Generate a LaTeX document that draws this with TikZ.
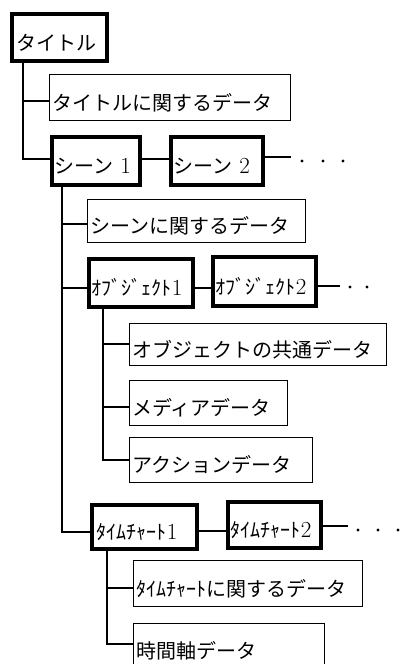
\documentclass[tikz,border=0pt]{standalone}
\usepackage{fontspec}
\newfontfamily\jp{Noto Sans CJK JP}
\newcommand\lowtxt[1]{\raisebox{-7pt}[15pt][3pt]{\jp #1}}
\newcommand\dg[1]{{\rmfamily\fontsize{23}{24}\selectfont #1}}
\begin{document}
\begin{tikzpicture}[x=1pt,y=-1pt,
  font=\fontsize{20}{24}\selectfont,
  bigbox/.style={draw, line width=3.5pt, anchor=north west, inner xsep=3pt, inner ysep=0pt, align=left},
  databox/.style={draw, line width=1.3pt, anchor=north west, inner xsep=3pt, inner ysep=0pt, align=left},
  conn/.style={line width=1.8pt},
  dot/.style={fill=black}]
\useasboundingbox (0,0) rectangle (402,664);
\clip (0,0) rectangle (402,664);
% boxes
\node[bigbox, inner xsep=5pt, minimum width=95pt, minimum height=47pt, text width=85pt] (title) at (10,12) {\lowtxt{タイトル}};
\node[databox, minimum width=241pt, minimum height=46pt, text width=235pt] (tdata) at (48.5,73.5) {\lowtxt{タイトルに関するデータ}};
\node[bigbox, minimum width=88pt, minimum height=48pt, text width=82pt] (scene1) at (50,135) {\lowtxt{シーン~\dg{1}}};
\node[bigbox, minimum width=92pt, minimum height=48pt, text width=86pt] (scene2) at (169,135) {\lowtxt{シーン~\dg{2}}};
\node[databox, minimum width=218pt, minimum height=43pt, text width=212pt] (sdata) at (86.5,198.5) {\lowtxt{シーンに関するデータ}};
\node[bigbox, minimum width=104pt, minimum height=48pt, text width=98pt] (obj1) at (87,257) {\lowtxt{ｵﾌﾞｼﾞｪｸﾄ\dg{1}}};
\node[bigbox, minimum width=103pt, minimum height=49pt, text width=97pt] (obj2) at (211,255) {\lowtxt{ｵﾌﾞｼﾞｪｸﾄ\dg{2}}};
\node[databox, minimum width=257pt, minimum height=42pt, text width=251pt] (odata) at (128.5,322.5) {\lowtxt{オブジェクトの共通データ}};
\node[databox, minimum width=158pt, minimum height=45pt, text width=152pt] (media) at (128.5,379.5) {\lowtxt{メディアデータ}};
\node[databox, minimum width=183pt, minimum height=45pt, text width=177pt] (action) at (128.5,436.5) {\lowtxt{アクションデータ}};
\node[bigbox, inner xsep=5pt, minimum width=105pt, minimum height=44pt, text width=95pt] (tc1) at (90,503) {\lowtxt{ﾀｲﾑﾁｬｰﾄ\dg{1}}};
\node[bigbox, minimum width=93pt, minimum height=46pt, text width=87pt] (tc2) at (226,500) {\lowtxt{ﾀｲﾑﾁｬｰﾄ\dg{2}}};
\node[databox, minimum width=229pt, minimum height=46pt, text width=223pt] (tcdata) at (132.5,559.5) {\lowtxt{ﾀｲﾑﾁｬｰﾄに関するデータ}};
\node[databox, minimum width=191pt, minimum height=44pt, text width=185pt] (time) at (132.5,622.5) {\lowtxt{時間軸データ}};
% title tree
\draw[conn] ([xshift=13pt]title.south west) |- ([yshift=-3.5pt]tdata.west);
\draw[conn] ([xshift=13pt]title.south west) |- ([yshift=2pt]scene1.west);
\draw[conn] ([yshift=2pt]scene1.east) -- ([yshift=2pt]scene2.west);
\coordinate (s2e) at (291,157);
\draw[conn] (scene2.east |- s2e) -- (s2e);
\foreach \x in {302,323,343} \fill[dot] (\x,161) circle (1.7pt);
% scene tree
\draw[conn] ([xshift=12pt]scene1.south west) |- ([yshift=-3pt]sdata.west);
\draw[conn] ([xshift=12pt]scene1.south west) |- ([yshift=-5pt]obj1.west);
\draw[conn] ([xshift=12pt]scene1.south west) |- ([yshift=-5pt]tc1.west);
\coordinate (o1c) at ([yshift=-5pt]obj1.east);
\draw[conn] (o1c) -- (o1c -| obj2.west);
\coordinate (o2e) at (340,286);
\draw[conn] (obj2.east |- o2e) -- (o2e);
\foreach \x in {350,367} \fill[dot] (\x,287) circle (1.7pt);
% object tree
\draw[conn] ([xshift=16pt]obj1.south west) |- (odata.west);
\draw[conn] ([xshift=16pt]obj1.south west) |- ([yshift=-4pt]media.west);
\draw[conn] ([xshift=16pt]obj1.south west) |- (action.west);
% timechart tree
\coordinate (t1c) at ([yshift=-4pt]tc1.east);
\draw[conn] (t1c) -- (t1c -| tc2.west);
\coordinate (t2e) at (348,526);
\draw[conn] (tc2.east |- t2e) -- (t2e);
\foreach \x in {358,378,398} \fill[dot] (\x,530) circle (1.7pt);
\draw[conn] ([xshift=17pt]tc1.south west) |- ([yshift=-4.5pt]tcdata.west);
\draw[conn] ([xshift=17pt]tc1.south west) |- ([yshift=1.5pt]time.west);
\end{tikzpicture}
\end{document}
